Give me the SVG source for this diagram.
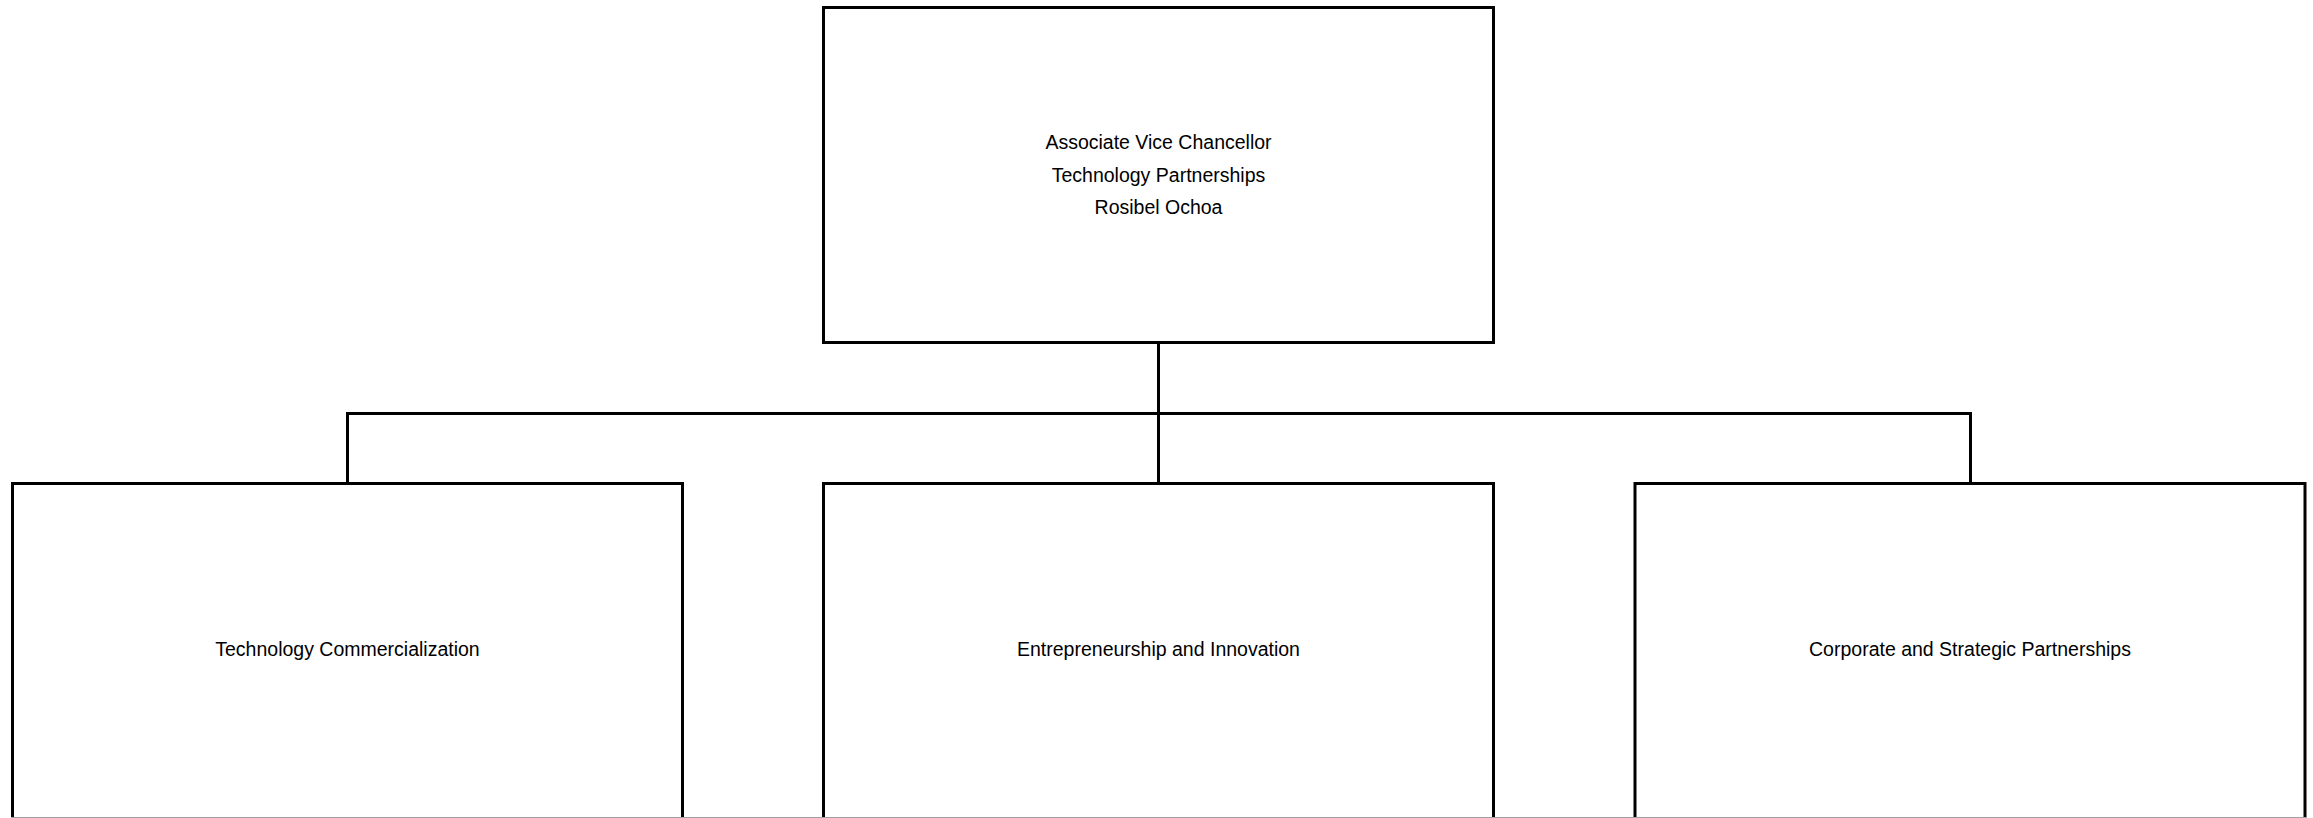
<svg xmlns="http://www.w3.org/2000/svg" width="2313" height="818" viewBox="0 0 2313 818">
  <style>
    .box { fill: #ffffff; stroke: #000000; stroke-width: 3; }
    .conn { fill: none; stroke: #000000; stroke-width: 3; }
    .label { font-family: "Liberation Sans", Arial, sans-serif; font-size: 19.5px; fill: #000000; text-anchor: middle; }
  </style>
  <rect x="0" y="0" width="2313" height="818" fill="#ffffff"/>
  <g id="connectors">
    <path class="conn" d="M1158.5 343 V413.5"/>
    <path class="conn" d="M347.5 483 V413.5 H1970.5 V483"/>
    <path class="conn" d="M1158.5 413.5 V483"/>
  </g>
  <g id="node-avc">
    <rect class="box" x="823.5" y="7.5" width="670" height="335"/>
    <text class="label" x="1158.5" y="149">Associate Vice Chancellor</text>
    <text class="label" x="1158.5" y="182">Technology Partnerships</text>
    <text class="label" x="1158.5" y="214">Rosibel Ochoa</text>
  </g>
  <g id="node-tc">
    <rect class="box" x="12.5" y="483.5" width="670" height="350"/>
    <text class="label" x="347.5" y="656">Technology Commercialization</text>
  </g>
  <g id="node-ei">
    <rect class="box" x="823.5" y="483.5" width="670" height="350"/>
    <text class="label" x="1158.5" y="656">Entrepreneurship and Innovation</text>
  </g>
  <g id="node-csp">
    <rect class="box" x="1635" y="483.5" width="670" height="350"/>
    <text class="label" x="1970" y="656">Corporate and Strategic Partnerships</text>
  </g>
  <line x1="11" y1="817.5" x2="2307" y2="817.5" stroke="#a0a0a0" stroke-width="1"/>
</svg>
